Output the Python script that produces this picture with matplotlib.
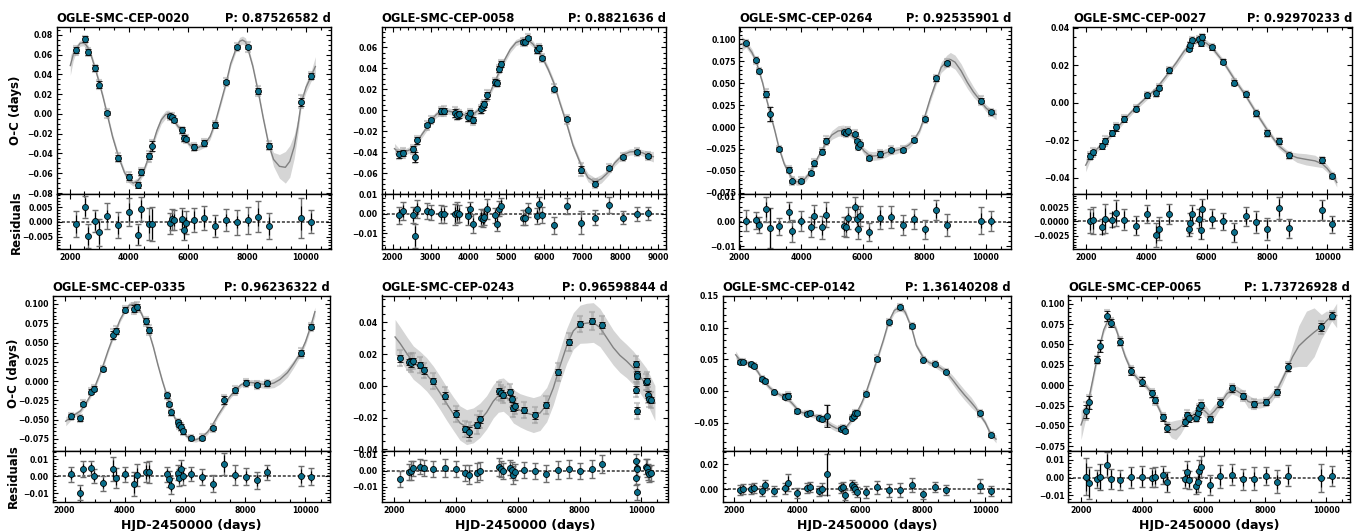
import matplotlib
matplotlib.use('Agg')
import numpy as np
import matplotlib.pyplot as plt
from matplotlib.ticker import MultipleLocator, AutoMinorLocator

plt.rcParams['font.family'] = 'DejaVu Sans'
plt.rcParams['font.weight'] = 'bold'
plt.rcParams['axes.labelweight'] = 'bold'
plt.rcParams['axes.titleweight'] = 'bold'

# ---------------- OGLE-SMC-CEP-0020 ----------------
t_0020 = [2205, 2530, 2616, 2865, 2984, 3276, 3650, 4011, 4313, 4421, 4692, 4800, 5405, 5459,
          5524, 5805, 5859, 5924, 6194, 6551, 6919, 7297, 7654, 8021, 8389, 8735, 9837, 10172]
oc_0020 = [0.0644, 0.0756, 0.0624, 0.0461, 0.0298, 0.0007, -0.0441, -0.0637, -0.0719, -0.0586,
           -0.0427, -0.0322, -0.0025, -0.0030, -0.0058, -0.0166, -0.0244, -0.0254, -0.0332,
           -0.0298, -0.0108, 0.0322, 0.0678, 0.0678, 0.0231, -0.0322, 0.0125, 0.0383]
err_0020 = [0.003, 0.003, 0.003, 0.003, 0.004, 0.002, 0.003, 0.003, 0.003, 0.003, 0.003, 0.005,
            0.002, 0.002, 0.002, 0.003, 0.003, 0.002, 0.003, 0.003, 0.003, 0.002, 0.002, 0.002,
            0.003, 0.003, 0.004, 0.003]
res_0020 = [-0.0008, 0.0049, -0.0048, 0.0003, -0.0036, 0.0019, -0.0011, 0.0032, -0.0044, 0.0044,
            -0.0008, -0.0008, -0.0005, 0.0008, 0.0006, 0.0011, -0.0028, -0.0003, 0.0006, 0.0013,
            -0.0014, 0.0006, -0.0001, 0.0005, 0.0017, -0.0014, 0.0013, 0.0001]
rerr_0020 = [0.0045, 0.0037, 0.0041, 0.0038, 0.0045, 0.0043, 0.0043, 0.0047, 0.0035, 0.0040,
             0.0055, 0.0058, 0.0035, 0.0035, 0.0035, 0.0035, 0.0035, 0.0038, 0.0042, 0.0040,
             0.0036, 0.0038, 0.0042, 0.0046, 0.0052, 0.0045, 0.0068, 0.0040]
cx_0020 = [2020, 2120, 2205, 2350, 2450, 2530, 2616, 2750, 2865, 2984, 3130, 3276, 3450, 3650,
           3850, 4011, 4150, 4313, 4421, 4550, 4692, 4800, 4950, 5100, 5250, 5350, 5459, 5524,
           5650, 5805, 5924, 6050, 6194, 6350, 6551, 6750, 6919, 7100, 7297, 7450, 7654, 7750,
           7850, 7950, 8021, 8200, 8389, 8550, 8735, 8900, 9100, 9300, 9450, 9600, 9720, 9837,
           10000, 10172, 10315]
cy_0020 = [0.049, 0.060, 0.065, 0.0715, 0.0720, 0.0707, 0.0672, 0.0570, 0.0458, 0.0334, 0.0170,
           -0.0012, -0.0230, -0.0430, -0.0590, -0.0669, -0.0700, -0.0675, -0.0630, -0.0540,
           -0.0419, -0.0314, -0.0170, -0.0060, -0.0005, 0.0000, -0.0038, -0.0064, -0.0120,
           -0.0177, -0.0251, -0.0310, -0.0338, -0.0340, -0.0311, -0.0230, -0.0094, 0.0100,
           0.0316, 0.0510, 0.0679, 0.0735, 0.0748, 0.0730, 0.0673, 0.0480, 0.0214, -0.0040,
           -0.0308, -0.0460, -0.0530, -0.0540, -0.0480, -0.0330, -0.0130, 0.0112, 0.0270,
           0.0382, 0.0480]
w_0020 = [0.010, 0.006, 0.004, 0.003, 0.003, 0.003, 0.003, 0.003, 0.003, 0.003, 0.003, 0.003,
          0.003, 0.003, 0.003, 0.003, 0.003, 0.003, 0.003, 0.003, 0.003, 0.003, 0.004, 0.004,
          0.004, 0.004, 0.003, 0.003, 0.003, 0.003, 0.003, 0.003, 0.003, 0.003, 0.003, 0.003,
          0.003, 0.003, 0.003, 0.003, 0.003, 0.004, 0.004, 0.004, 0.003, 0.003, 0.003, 0.003,
          0.003, 0.007, 0.012, 0.016, 0.016, 0.012, 0.008, 0.004, 0.005, 0.005, 0.010]

# ---------------- OGLE-SMC-CEP-0058 ----------------
t_0058 = [2179, 2267, 2530, 2600, 2644, 2916, 3004, 3268, 3355, 3645, 3689, 3759, 3979, 4040,
          4110, 4330, 4374, 4418, 4488, 4699, 4751, 4813, 4865, 5427, 5498, 5577, 5796, 5866,
          5945, 6244, 6586, 6964, 7333, 7693, 8061, 8448, 8737]
oc_0058 = [-0.0418, -0.0405, -0.0370, -0.0443, -0.0285, -0.0142, -0.0089, -0.0009, -0.0006,
           -0.0022, -0.0041, -0.0038, -0.0063, -0.0025, -0.0089, 0.0009, 0.0038, 0.0063, 0.0142,
           0.0269, 0.0259, 0.0396, 0.0443, 0.0649, 0.0649, 0.0687, 0.0576, 0.0595, 0.0497,
           0.0206, -0.0085, -0.0563, -0.0696, -0.0547, -0.0443, -0.0396, -0.0434]
err_0058 = [0.003, 0.003, 0.003, 0.005, 0.003, 0.002, 0.002, 0.003, 0.003, 0.004, 0.004, 0.003,
            0.004, 0.003, 0.003, 0.003, 0.003, 0.003, 0.003, 0.003, 0.003, 0.003, 0.003, 0.002,
            0.002, 0.002, 0.003, 0.003, 0.002, 0.002, 0.002, 0.003, 0.002, 0.002, 0.002, 0.002,
            0.002]
res_0058 = [-0.0007, 0.0014, -0.0007, -0.0114, 0.0024, 0.0014, 0.0008, 0.0000, -0.0002, -0.0002,
            0.0007, 0.0002, -0.0010, 0.0024, -0.0049, -0.0019, -0.0024, -0.0015, 0.0025, -0.0008,
            -0.0049, 0.0027, 0.0041, -0.0019, -0.0019, 0.0019, -0.0012, 0.0049, -0.0007, -0.0059,
            0.0041, -0.0044, -0.0019, 0.0046, -0.0019, -0.0002, 0.0003]
rerr_0058 = [0.0045, 0.0045, 0.0040, 0.0060, 0.0045, 0.0040, 0.0040, 0.0045, 0.0045, 0.0055,
             0.0055, 0.0045, 0.0045, 0.0035, 0.0050, 0.0045, 0.0045, 0.0040, 0.0050, 0.0040,
             0.0040, 0.0040, 0.0040, 0.0040, 0.0040, 0.0035, 0.0040, 0.0040, 0.0040, 0.0042,
             0.0040, 0.0060, 0.0040, 0.0040, 0.0035, 0.0035, 0.0035]
cx_0058 = [2050, 2179, 2350, 2530, 2644, 2750, 2916, 3004, 3150, 3268, 3450, 3645, 3800, 3979,
           4110, 4250, 4374, 4488, 4600, 4699, 4813, 4950, 5100, 5250, 5427, 5577, 5700, 5866,
           5945, 6100, 6244, 6400, 6586, 6750, 6964, 7150, 7333, 7500, 7693, 7850, 8061, 8250,
           8448, 8600, 8737, 8870]
cy_0058 = [-0.0364, -0.0405, -0.0390, -0.0363, -0.0309, -0.0240, -0.0156, -0.0097, -0.0040,
           -0.0009, -0.0005, -0.0020, -0.0035, -0.0050, -0.0040, 0.0000, 0.0062, 0.0117, 0.0195,
           0.0277, 0.0369, 0.0480, 0.0580, 0.0645, 0.0670, 0.0668, 0.0630, 0.0546, 0.0504,
           0.0390, 0.0265, 0.0080, -0.0126, -0.0330, -0.0519, -0.0640, -0.0680, -0.0650,
           -0.0585, -0.0500, -0.0424, -0.0395, -0.0390, -0.0405, -0.0430, -0.0440]
w_0058 = [0.005, 0.004, 0.003, 0.003, 0.003, 0.003, 0.003, 0.003, 0.003, 0.003, 0.003, 0.003,
          0.003, 0.003, 0.003, 0.003, 0.003, 0.003, 0.003, 0.003, 0.003, 0.003, 0.003, 0.003,
          0.003, 0.003, 0.003, 0.003, 0.003, 0.003, 0.003, 0.003, 0.003, 0.003, 0.003, 0.004,
          0.004, 0.004, 0.003, 0.003, 0.003, 0.003, 0.003, 0.003, 0.004, 0.005]

# ---------------- OGLE-SMC-CEP-0264 ----------------
t_0264 = [2205, 2530, 2616, 2865, 2984, 3276, 3600, 3708, 4011, 4313, 4421, 4692, 4800, 5405,
          5459, 5524, 5751, 5805, 5859, 5924, 6194, 6551, 6919, 7297, 7654, 8021, 8389, 8735,
          9837, 10172]
oc_0264 = [0.0952, 0.0759, 0.0642, 0.0378, 0.0144, -0.0253, -0.0487, -0.0619, -0.0612, -0.0521,
           -0.0412, -0.0279, -0.0155, -0.0060, -0.0072, -0.0049, -0.0079, -0.0155, -0.0223,
           -0.0193, -0.0351, -0.0306, -0.0257, -0.0261, -0.0147, 0.0091, 0.0555, 0.0729,
           0.0302, 0.0170]
err_0264 = [0.002, 0.002, 0.002, 0.003, 0.008, 0.002, 0.003, 0.002, 0.002, 0.002, 0.003, 0.003,
            0.003, 0.002, 0.002, 0.002, 0.002, 0.002, 0.002, 0.002, 0.002, 0.003, 0.002, 0.002,
            0.002, 0.002, 0.003, 0.002, 0.003, 0.002]
res_0264 = [0.0004, 0.0005, -0.0015, 0.0050, -0.0026, -0.0020, 0.0039, -0.0039, 0.0003, -0.0022,
            0.0022, -0.0024, 0.0028, -0.0020, -0.0022, 0.0014, 0.0058, 0.0009, -0.0031, 0.0023,
            -0.0042, 0.0016, 0.0018, -0.0014, 0.0009, -0.0032, 0.0045, -0.0015, 0.0003, 0.0003]
rerr_0264 = [0.0043, 0.0035, 0.0033, 0.0050, 0.0082, 0.0035, 0.0040, 0.0045, 0.0040, 0.0040,
             0.0045, 0.0045, 0.0050, 0.0040, 0.0040, 0.0045, 0.0040, 0.0040, 0.0040, 0.0040,
             0.0038, 0.0045, 0.0045, 0.0040, 0.0040, 0.0040, 0.0040, 0.0045, 0.0055, 0.0040]
cx_0264 = [2054, 2205, 2400, 2530, 2616, 2750, 2865, 3000, 3150, 3276, 3450, 3600, 3708, 3850,
           4011, 4150, 4313, 4421, 4550, 4692, 4800, 5000, 5200, 5380, 5524, 5700, 5805, 5924,
           6050, 6194, 6350, 6551, 6750, 6919, 7100, 7297, 7500, 7654, 7850, 8021, 8200, 8389,
           8550, 8735, 8850, 9000, 9200, 9400, 9600, 9837, 10000, 10172, 10335]
cy_0264 = [0.0950, 0.0948, 0.0850, 0.0755, 0.0655, 0.0500, 0.0330, 0.0150, -0.0050, -0.0233,
           -0.0420, -0.0526, -0.0585, -0.0625, -0.0620, -0.0580, -0.0500, -0.0434, -0.0340,
           -0.0255, -0.0183, -0.0090, -0.0045, -0.0036, -0.0060, -0.0115, -0.0164, -0.0216,
           -0.0275, -0.0315, -0.0330, -0.0322, -0.0295, -0.0275, -0.0265, -0.0247, -0.0205,
           -0.0156, -0.0040, 0.0123, 0.0330, 0.0520, 0.0680, 0.0750, 0.0770, 0.0740, 0.0640,
           0.0510, 0.0400, 0.0295, 0.0220, 0.0167, 0.0145]
w_0264 = [0.009, 0.004, 0.004, 0.003, 0.003, 0.003, 0.003, 0.003, 0.003, 0.003, 0.003, 0.003,
          0.003, 0.004, 0.004, 0.004, 0.003, 0.003, 0.003, 0.003, 0.003, 0.005, 0.006, 0.006,
          0.004, 0.003, 0.003, 0.003, 0.004, 0.004, 0.005, 0.005, 0.005, 0.004, 0.004, 0.003,
          0.004, 0.003, 0.003, 0.003, 0.004, 0.004, 0.006, 0.007, 0.008, 0.008, 0.008, 0.007,
          0.006, 0.004, 0.004, 0.004, 0.006]

# ---------------- OGLE-SMC-CEP-0027 ----------------
t_0027 = [2132, 2220, 2530, 2616, 2865, 2984, 3276, 3650, 4011, 4313, 4421, 4740, 5405, 5459,
          5524, 5751, 5805, 5859, 6194, 6551, 6919, 7297, 7654, 8021, 8389, 8735, 9837, 10172]
oc_0027 = [-0.0283, -0.0265, -0.0231, -0.0204, -0.0162, -0.0130, -0.0085, -0.0031, 0.0040,
           0.0050, 0.0081, 0.0173, 0.0288, 0.0310, 0.0333, 0.0339, 0.0319, 0.0350, 0.0297,
           0.0220, 0.0108, 0.0045, -0.0056, -0.0162, -0.0205, -0.0281, -0.0306, -0.0391]
err_0027 = [0.0015, 0.0015, 0.0015, 0.0018, 0.0015, 0.0018, 0.0015, 0.0015, 0.0013, 0.0015,
            0.0015, 0.0015, 0.0013, 0.0015, 0.0013, 0.0013, 0.0015, 0.0015, 0.0013, 0.0013,
            0.0015, 0.0013, 0.0015, 0.0015, 0.0015, 0.0013, 0.0015, 0.0012]
res_0027 = [0.0001, 0.0002, -0.0009, 0.0005, 0.0003, 0.0015, 0.0003, -0.0007, 0.0013, -0.0023,
            -0.0013, 0.0013, -0.0013, -0.0003, 0.0013, 0.0005, -0.0015, 0.0022, 0.0005, 0.0000,
            -0.0019, 0.0009, -0.0001, -0.0013, 0.0024, -0.0012, 0.0020, -0.0005]
rerr_0027 = [0.0021, 0.0023, 0.0013, 0.0025, 0.0012, 0.0023, 0.0018, 0.0017, 0.0016, 0.0021,
             0.0020, 0.0018, 0.0013, 0.0017, 0.0016, 0.0017, 0.0016, 0.0017, 0.0017, 0.0014,
             0.0017, 0.0016, 0.0019, 0.0019, 0.0019, 0.0017, 0.0018, 0.0015]
cx_0027 = [1990, 2132, 2220, 2530, 2616, 2865, 2984, 3276, 3650, 4011, 4313, 4421, 4740, 5000,
           5250, 5405, 5524, 5700, 5859, 6000, 6194, 6551, 6919, 7297, 7654, 8021, 8389, 8735,
           9000, 9300, 9600, 9837, 10000, 10172, 10320]
cy_0027 = [-0.0333, -0.0290, -0.0268, -0.0222, -0.0209, -0.0165, -0.0145, -0.0088, -0.0024,
           0.0030, 0.0073, 0.0094, 0.0160, 0.0215, 0.0275, 0.0301, 0.0320, 0.0336, 0.0330,
           0.0318, 0.0292, 0.0220, 0.0127, 0.0039, -0.0055, -0.0147, -0.0229, -0.0275, -0.0293,
           -0.0302, -0.0310, -0.0326, -0.0350, -0.0386, -0.0425]
w_0027 = [0.0035, 0.0020, 0.0015, 0.0015, 0.0015, 0.0015, 0.0015, 0.0015, 0.0015, 0.0015,
          0.0015, 0.0015, 0.0015, 0.0018, 0.0018, 0.0015, 0.0015, 0.0018, 0.0018, 0.0018,
          0.0015, 0.0015, 0.0015, 0.0015, 0.0015, 0.0015, 0.0015, 0.0015, 0.0025, 0.0030,
          0.0030, 0.0020, 0.0020, 0.0018, 0.0025]

# ---------------- OGLE-SMC-CEP-0335 ----------------
t_0335 = [2205, 2530, 2616, 2865, 2984, 3276, 3600, 3708, 4011, 4313, 4421, 4692, 4800, 5405,
          5459, 5524, 5751, 5805, 5859, 5924, 6194, 6551, 6919, 7297, 7654, 8021, 8389, 8735,
          9837, 10172]
oc_0335 = [-0.0457, -0.0483, -0.0296, -0.0135, -0.0096, 0.0157, 0.0601, 0.0653, 0.0927, 0.0941,
           0.0962, 0.0775, 0.0662, -0.0183, -0.0296, -0.0405, -0.0531, -0.0566, -0.0597,
           -0.0653, -0.0736, -0.0736, -0.0610, -0.0248, -0.0118, -0.0022, -0.0052, -0.0030,
           0.0366, 0.0706]
err_0335 = [0.003, 0.003, 0.003, 0.003, 0.003, 0.003, 0.005, 0.004, 0.003, 0.005, 0.004, 0.004,
            0.004, 0.003, 0.003, 0.003, 0.003, 0.003, 0.004, 0.003, 0.003, 0.003, 0.003, 0.005,
            0.003, 0.003, 0.003, 0.003, 0.004, 0.003]
res_0335 = [0.0012, -0.0096, 0.0043, 0.0049, 0.0000, -0.0041, 0.0043, -0.0010, 0.0012, -0.0047,
            0.0006, 0.0024, 0.0027, 0.0012, -0.0016, -0.0057, 0.0020, -0.0008, 0.0043, 0.0000,
            0.0014, -0.0004, -0.0045, 0.0073, 0.0006, -0.0002, -0.0025, 0.0022, 0.0000, -0.0002]
rerr_0335 = [0.0045, 0.0045, 0.0045, 0.0040, 0.0040, 0.0045, 0.0070, 0.0060, 0.0045, 0.0070,
             0.0065, 0.0060, 0.0065, 0.0045, 0.0045, 0.0045, 0.0045, 0.0050, 0.0050, 0.0050,
             0.0040, 0.0045, 0.0050, 0.0065, 0.0060, 0.0050, 0.0050, 0.0045, 0.0060, 0.0050]
cx_0335 = [2040, 2205, 2400, 2530, 2616, 2750, 2865, 2984, 3130, 3276, 3450, 3600, 3708, 3850,
           4011, 4150, 4313, 4421, 4550, 4692, 4800, 4950, 5100, 5250, 5405, 5524, 5650, 5805,
           5924, 6050, 6194, 6350, 6551, 6750, 6919, 7100, 7297, 7450, 7654, 7850, 8021, 8200,
           8389, 8550, 8735, 8950, 9150, 9400, 9600, 9837, 10000, 10172, 10314]
cy_0335 = [-0.0520, -0.0469, -0.0420, -0.0387, -0.0339, -0.0260, -0.0184, -0.0096, 0.0050,
           0.0198, 0.0400, 0.0558, 0.0663, 0.0800, 0.0915, 0.0985, 0.0995, 0.0956, 0.0880,
           0.0751, 0.0635, 0.0440, 0.0210, 0.0000, -0.0195, -0.0348, -0.0470, -0.0570, -0.0645,
           -0.0715, -0.0750, -0.0762, -0.0732, -0.0660, -0.0565, -0.0440, -0.0321, -0.0220,
           -0.0124, -0.0050, -0.0020, -0.0018, -0.0027, -0.0040, -0.0045, -0.0025, 0.0020,
           0.0110, 0.0220, 0.0366, 0.0510, 0.0708, 0.0900]
w_0335 = [0.006, 0.004, 0.003, 0.003, 0.003, 0.003, 0.003, 0.003, 0.003, 0.003, 0.003, 0.003,
          0.003, 0.003, 0.003, 0.004, 0.004, 0.003, 0.003, 0.003, 0.003, 0.003, 0.003, 0.003,
          0.003, 0.003, 0.003, 0.003, 0.003, 0.003, 0.003, 0.003, 0.003, 0.003, 0.003, 0.003,
          0.003, 0.003, 0.003, 0.003, 0.003, 0.004, 0.004, 0.005, 0.005, 0.006, 0.006, 0.006,
          0.005, 0.004, 0.004, 0.004, 0.006]

# ---------------- OGLE-SMC-CEP-0243 ----------------
t_0243 = [2205, 2505, 2560, 2610, 2865, 2984, 3276, 3650, 4011, 4313, 4421, 4692, 4800, 5405,
          5459, 5524, 5751, 5805, 5859, 5924, 6194, 6551, 6919, 7297, 7654, 8021, 8389, 8735,
          9820, 9845, 9860, 9830, 9850, 10150, 10180, 10210, 10250, 10295]
oc_0243 = [0.0173, 0.0152, 0.0146, 0.0156, 0.0131, 0.0097, 0.0030, -0.0061, -0.0175, -0.0272,
           -0.0289, -0.0245, -0.0211, -0.0032, -0.0044, -0.0059, -0.0040, -0.0082, -0.0139,
           -0.0129, -0.0150, -0.0186, -0.0120, 0.0087, 0.0276, 0.0388, 0.0409, 0.0382, 0.0137,
           0.0072, 0.0061, -0.0023, -0.0156, 0.0027, 0.0030, -0.0055, -0.0082, -0.0091]
err_0243 = [0.002, 0.002, 0.003, 0.002, 0.002, 0.002, 0.002, 0.002, 0.002, 0.002, 0.003, 0.002,
            0.002, 0.002, 0.002, 0.002, 0.002, 0.002, 0.002, 0.002, 0.002, 0.002, 0.002, 0.002,
            0.002, 0.002, 0.002, 0.002, 0.002, 0.002, 0.002, 0.002, 0.002, 0.002, 0.002, 0.002,
            0.002, 0.002]
res_0243 = [-0.0051, -0.0008, 0.0000, 0.0015, 0.0027, 0.0019, 0.0013, 0.0019, 0.0013, -0.0011,
            -0.0025, -0.0011, -0.0002, 0.0023, 0.0013, 0.0000, 0.0021, 0.0006, -0.0025, -0.0008,
            0.0006, -0.0002, -0.0017, 0.0006, 0.0011, 0.0000, 0.0013, 0.0044, 0.0059, 0.0017,
            0.0013, -0.0042, -0.0131, 0.0027, 0.0017, -0.0008, -0.0021, -0.0015]
rerr_0243 = [0.0050, 0.0050, 0.0060, 0.0050, 0.0050, 0.0050, 0.0050, 0.0055, 0.0050, 0.0050,
             0.0060, 0.0060, 0.0055, 0.0055, 0.0050, 0.0050, 0.0050, 0.0050, 0.0055, 0.0050,
             0.0050, 0.0050, 0.0055, 0.0055, 0.0055, 0.0050, 0.0055, 0.0055, 0.0050, 0.0050,
             0.0050, 0.0050, 0.0050, 0.0050, 0.0055, 0.0050, 0.0050, 0.0050]
cx_0243 = [2045, 2205, 2420, 2635, 2850, 3065, 3280, 3495, 3710, 3925, 4140, 4355, 4570, 4785,
           5000, 5215, 5380, 5540, 5700, 5865, 6080, 6295, 6510, 6725, 6940, 7155, 7370, 7585,
           7800, 8015, 8230, 8445, 8660, 8875, 9090, 9305, 9520, 9735, 9950, 10165, 10435]
cy_0243 = [0.0308, 0.0268, 0.0205, 0.0146, 0.0112, 0.0072, 0.0019, -0.0044, -0.0112, -0.0175,
           -0.0234, -0.0260, -0.0249, -0.0217, -0.0167, -0.0097, -0.0061, -0.0055, -0.0082,
           -0.0129, -0.0154, -0.0171, -0.0184, -0.0171, -0.0118, -0.0013, 0.0125, 0.0251,
           0.0346, 0.0388, 0.0395, 0.0399, 0.0367, 0.0304, 0.0241, 0.0192, 0.0156, 0.0114,
           0.0061, 0.0002, -0.0108]
w_0243 = [0.0110, 0.0105, 0.0105, 0.0105, 0.0105, 0.0105, 0.0105, 0.0105, 0.0105, 0.0105,
          0.0108, 0.0110, 0.0110, 0.0108, 0.0105, 0.0105, 0.0105, 0.0105, 0.0105, 0.0105,
          0.0105, 0.0108, 0.0110, 0.0110, 0.0108, 0.0105, 0.0105, 0.0110, 0.0115, 0.0120,
          0.0125, 0.0125, 0.0120, 0.0115, 0.0110, 0.0108, 0.0105, 0.0105, 0.0105, 0.0108,
          0.0110]

# ---------------- OGLE-SMC-CEP-0142 ----------------
t_0142 = [2165, 2260, 2530, 2616, 2865, 2984, 3276, 3600, 3708, 4011, 4313, 4421, 4692, 4800,
          4950, 5405, 5459, 5524, 5751, 5805, 5859, 5924, 6194, 6551, 6919, 7297, 7654, 8021,
          8389, 8735, 9837, 10172]
oc_0142 = [0.0462, 0.0462, 0.0420, 0.0399, 0.0189, 0.0152, -0.0021, -0.0089, -0.0084, -0.0320,
           -0.0357, -0.0352, -0.0425, -0.0446, -0.0394, -0.0598, -0.0583, -0.0630, -0.0420,
           -0.0399, -0.0346, -0.0346, -0.0052, 0.0509, 0.1081, 0.1318, 0.1024, 0.0488, 0.0430,
           0.0299, -0.0352, -0.0693]
err_0142 = [0.003, 0.003, 0.003, 0.003, 0.003, 0.003, 0.002, 0.004, 0.005, 0.003, 0.002, 0.003,
            0.002, 0.003, 0.017, 0.003, 0.003, 0.003, 0.003, 0.003, 0.003, 0.003, 0.003, 0.003,
            0.003, 0.003, 0.003, 0.002, 0.002, 0.002, 0.003, 0.003]
res_0142 = [-0.0005, 0.0005, 0.0003, 0.0013, -0.0016, 0.0032, -0.0013, 0.0008, 0.0053, -0.0029,
            0.0008, 0.0019, -0.0011, 0.0003, 0.0120, 0.0008, 0.0019, -0.0048, 0.0032, 0.0021,
            0.0003, -0.0024, -0.0021, 0.0016, -0.0008, -0.0005, 0.0035, -0.0040, 0.0019,
            -0.0008, 0.0029, -0.0013]
rerr_0142 = [0.0040, 0.0040, 0.0040, 0.0040, 0.0040, 0.0040, 0.0040, 0.0045, 0.0070, 0.0040,
             0.0040, 0.0040, 0.0040, 0.0045, 0.0165, 0.0040, 0.0040, 0.0040, 0.0040, 0.0040,
             0.0040, 0.0040, 0.0045, 0.0050, 0.0050, 0.0055, 0.0055, 0.0040, 0.0040, 0.0040,
             0.0055, 0.0040]
cx_0142 = [2040, 2165, 2260, 2400, 2530, 2616, 2750, 2865, 2984, 3130, 3276, 3450, 3600, 3708,
           3850, 4011, 4150, 4313, 4421, 4550, 4692, 4800, 4950, 5100, 5250, 5405, 5500, 5600,
           5751, 5859, 5924, 6050, 6194, 6350, 6551, 6750, 6919, 7100, 7297, 7450, 7654, 7800,
           8021, 8200, 8389, 8550, 8735, 8950, 9150, 9350, 9550, 9700, 9837, 10000, 10172, 10344]
cy_0142 = [0.0570, 0.0490, 0.0465, 0.0445, 0.0417, 0.0386, 0.0300, 0.0205, 0.0130, 0.0050,
           -0.0010, -0.0060, -0.0097, -0.0130, -0.0200, -0.0291, -0.0340, -0.0362, -0.0371,
           -0.0390, -0.0414, -0.0449, -0.0500, -0.0550, -0.0590, -0.0606, -0.0600, -0.0550,
           -0.0452, -0.0360, -0.0322, -0.0200, -0.0031, 0.0200, 0.0493, 0.0800, 0.1089, 0.1270,
           0.1330, 0.1240, 0.0989, 0.0720, 0.0528, 0.0450, 0.0411, 0.0370, 0.0307, 0.0180,
           0.0050, -0.0070, -0.0180, -0.0270, -0.0381, -0.0500, -0.0680, -0.0760]
w_0142 = [0.006, 0.004, 0.004, 0.004, 0.004, 0.004, 0.004, 0.004, 0.004, 0.004, 0.004, 0.004,
          0.004, 0.004, 0.004, 0.004, 0.004, 0.004, 0.004, 0.004, 0.004, 0.004, 0.005, 0.005,
          0.005, 0.004, 0.004, 0.004, 0.004, 0.004, 0.004, 0.004, 0.004, 0.004, 0.004, 0.004,
          0.004, 0.005, 0.005, 0.005, 0.004, 0.004, 0.004, 0.004, 0.004, 0.005, 0.005, 0.007,
          0.008, 0.008, 0.008, 0.006, 0.004, 0.004, 0.004, 0.006]

# ---------------- OGLE-SMC-CEP-0065 ----------------
t_0065 = [2165, 2260, 2530, 2616, 2865, 2984, 3276, 3650, 4011, 4313, 4421, 4692, 4800, 5405,
          5459, 5524, 5751, 5805, 5859, 5924, 6194, 6551, 6919, 7297, 7654, 8021, 8389, 8735,
          9837, 10172]
oc_0065 = [-0.0318, -0.0208, 0.0314, 0.0481, 0.0848, 0.0767, 0.0534, 0.0179, 0.0045, -0.0102,
           -0.0184, -0.0396, -0.0526, -0.0457, -0.0367, -0.0408, -0.0400, -0.0347, -0.0286,
           -0.0245, -0.0416, -0.0220, -0.0041, -0.0131, -0.0232, -0.0204, -0.0082, 0.0220,
           0.0714, 0.0856]
err_0065 = [0.008, 0.008, 0.004, 0.007, 0.006, 0.005, 0.004, 0.005, 0.005, 0.004, 0.004, 0.004,
            0.005, 0.004, 0.004, 0.004, 0.004, 0.004, 0.004, 0.004, 0.004, 0.005, 0.004, 0.004,
            0.004, 0.004, 0.004, 0.005, 0.005, 0.004]
res_0065 = [0.0004, -0.0032, -0.0009, 0.0004, 0.0072, -0.0008, -0.0013, 0.0002, 0.0004, 0.0000,
            0.0004, 0.0013, -0.0026, -0.0008, 0.0034, -0.0013, -0.0045, -0.0023, 0.0038, 0.0062,
            -0.0042, 0.0006, 0.0017, -0.0009, -0.0006, 0.0009, -0.0023, 0.0011, -0.0004, 0.0008]
rerr_0065 = [0.0105, 0.0090, 0.0050, 0.0075, 0.0070, 0.0055, 0.0055, 0.0060, 0.0060, 0.0055,
             0.0055, 0.0050, 0.0055, 0.0050, 0.0060, 0.0050, 0.0050, 0.0060, 0.0060, 0.0060,
             0.0055, 0.0065, 0.0060, 0.0060, 0.0065, 0.0050, 0.0065, 0.0060, 0.0080, 0.0055]
cx_0065 = [2010, 2165, 2260, 2400, 2530, 2616, 2750, 2865, 2950, 3050, 3150, 3276, 3450, 3650,
           3850, 4011, 4150, 4313, 4421, 4550, 4692, 4800, 4950, 5100, 5250, 5405, 5524, 5700,
           5859, 5924, 6050, 6194, 6350, 6551, 6750, 6919, 7080, 7297, 7450, 7654, 7850, 8021,
           8200, 8389, 8550, 8735, 8900, 9100, 9350, 9600, 9837, 10000, 10172, 10335]
cy_0065 = [-0.0489, -0.0322, -0.0176, 0.0080, 0.0323, 0.0477, 0.0680, 0.0776, 0.0810, 0.0760,
           0.0690, 0.0547, 0.0350, 0.0177, 0.0080, 0.0041, -0.0020, -0.0102, -0.0188, -0.0290,
           -0.0409, -0.0500, -0.0545, -0.0550, -0.0510, -0.0449, -0.0395, -0.0360, -0.0324,
           -0.0290, -0.0320, -0.0374, -0.0320, -0.0226, -0.0110, -0.0058, -0.0070, -0.0122,
           -0.0200, -0.0226, -0.0220, -0.0213, -0.0150, -0.0059, 0.0060, 0.0209, 0.0350, 0.0480,
           0.0570, 0.0650, 0.0718, 0.0790, 0.0848, 0.0856]
w_0065 = [0.018, 0.009, 0.007, 0.006, 0.005, 0.005, 0.004, 0.004, 0.004, 0.004, 0.004, 0.004,
          0.004, 0.004, 0.004, 0.004, 0.004, 0.004, 0.004, 0.004, 0.004, 0.006, 0.010, 0.012,
          0.009, 0.005, 0.005, 0.006, 0.005, 0.005, 0.008, 0.006, 0.008, 0.005, 0.006, 0.005,
          0.006, 0.006, 0.008, 0.006, 0.006, 0.005, 0.006, 0.005, 0.006, 0.005, 0.013, 0.025,
          0.034, 0.030, 0.015, 0.012, 0.006, 0.015]

stars = [
    ('OGLE-SMC-CEP-0020', 'P: 0.87526582 d', t_0020, oc_0020, err_0020, res_0020, rerr_0020, cx_0020, cy_0020, w_0020),
    ('OGLE-SMC-CEP-0058', 'P: 0.8821636 d', t_0058, oc_0058, err_0058, res_0058, rerr_0058, cx_0058, cy_0058, w_0058),
    ('OGLE-SMC-CEP-0264', 'P: 0.92535901 d', t_0264, oc_0264, err_0264, res_0264, rerr_0264, cx_0264, cy_0264, w_0264),
    ('OGLE-SMC-CEP-0027', 'P: 0.92970233 d', t_0027, oc_0027, err_0027, res_0027, rerr_0027, cx_0027, cy_0027, w_0027),
    ('OGLE-SMC-CEP-0335', 'P: 0.96236322 d', t_0335, oc_0335, err_0335, res_0335, rerr_0335, cx_0335, cy_0335, w_0335),
    ('OGLE-SMC-CEP-0243', 'P: 0.96598844 d', t_0243, oc_0243, err_0243, res_0243, rerr_0243, cx_0243, cy_0243, w_0243),
    ('OGLE-SMC-CEP-0142', 'P: 1.36140208 d', t_0142, oc_0142, err_0142, res_0142, rerr_0142, cx_0142, cy_0142, w_0142),
    ('OGLE-SMC-CEP-0065', 'P: 1.73726928 d', t_0065, oc_0065, err_0065, res_0065, rerr_0065, cx_0065, cy_0065, w_0065),
]

# axis ranges and tick spacing for each panel
xlims = [(1560, 10845), (1713, 9203), (1990, 10821), (1579, 10836),
         (1607, 10814), (1613, 10867), (1627, 10821), (1596, 10769)]
xsteps = [2000, 1000, 2000, 2000, 2000, 2000, 2000, 2000]
ylims = [(-0.081, 0.088), (-0.0795, 0.0793), (-0.0763, 0.114), (-0.0487, 0.0405),
         (-0.090, 0.111), (-0.0407, 0.0569), (-0.094, 0.1505), (-0.0803, 0.1102)]
ysteps = [0.02, 0.02, 0.025, 0.02, 0.025, 0.02, 0.05, 0.025]
rlims = [(-0.0093, 0.0094), (-0.0181, 0.0102), (-0.0112, 0.0111), (-0.00483, 0.00477),
         (-0.0153, 0.0151), (-0.0198, 0.0128), (-0.0104, 0.0309), (-0.0140, 0.0153)]
rsteps = [0.005, 0.01, 0.01, 0.0025, 0.01, 0.01, 0.02, 0.01]

# panel frames in pixels
W, H = 1363, 531
lefts = [56.7, 381.7, 739.3, 1073.3, 52.7, 381.7, 722.7, 1068.3]
rights = [331.0, 666.0, 1011.0, 1352.3, 330.0, 668.3, 1011.0, 1350.0]
rows = [(27.0, 194.0, 249.3), (295.5, 450.5, 502.3)]
ylabel_px = [22.5, 20.0]

POINT = '#0a6e8a'


def style_axis(ax, xstep, ystep):
    ax.xaxis.set_major_locator(MultipleLocator(xstep))
    ax.xaxis.set_minor_locator(AutoMinorLocator())
    ax.yaxis.set_major_locator(MultipleLocator(ystep))
    ax.yaxis.set_minor_locator(AutoMinorLocator())
    ax.tick_params(which='both', direction='in', top=True, right=True,
                   labelsize=5.6, width=0.8, pad=2.5)
    ax.tick_params(which='major', length=3.5)
    ax.tick_params(which='minor', length=2)
    for sp in ax.spines.values():
        sp.set_linewidth(1.0)


fig = plt.figure(figsize=(W / 100, H / 100), dpi=100)

for i, (name, period, t, oc, err, res, rerr, cx, cy, w) in enumerate(stars):
    row, col = divmod(i, 4)
    top, split, bottom = rows[row]
    l, r = lefts[i], rights[i]
    ax = fig.add_axes([l / W, 1 - split / H, (r - l) / W, (split - top) / H])
    axr = fig.add_axes([l / W, 1 - bottom / H, (r - l) / W, (bottom - split) / H])

    cx = np.array(cx)
    cy = np.array(cy)
    w = np.array(w)

    # GP mean and its uncertainty band
    ax.fill_between(cx, cy - w, cy + w, color='#d5d5d5', lw=0, zorder=1)
    ax.plot(cx, cy, color='#808080', lw=1.0, zorder=2)
    ax.errorbar(t, oc, yerr=rerr, fmt='none', ecolor='#9a9a9a', elinewidth=2.0,
                capsize=2.5, capthick=1.5, alpha=0.5, zorder=3)
    ax.errorbar(t, oc, yerr=err, fmt='o', ms=4.3, mfc=POINT, mec='black', mew=0.6,
                ecolor='black', elinewidth=0.9, capsize=2, capthick=0.9, zorder=4)

    # residuals
    axr.axhline(0, color='#333333', ls=(0, (2, 1.2)), lw=1.1, zorder=1)
    axr.errorbar(t, res, yerr=rerr, fmt='none', ecolor='#6e6e6e', elinewidth=1.0,
                 capsize=2, capthick=1.0, zorder=2)
    axr.errorbar(t, res, yerr=err, fmt='o', ms=4.3, mfc=POINT, mec='black', mew=0.6,
                 ecolor='black', elinewidth=0.8, capsize=0, zorder=3)

    for a in (ax, axr):
        a.set_xlim(*xlims[i])
    ax.set_ylim(*ylims[i])
    axr.set_ylim(*rlims[i])
    style_axis(ax, xsteps[i], ysteps[i])
    style_axis(axr, xsteps[i], rsteps[i])
    ax.tick_params(labelbottom=False)

    ax.set_title(name, loc='left', fontsize=8.3, pad=3.5)
    ax.set_title(period, loc='right', fontsize=8.3, pad=3.5)

    if col == 0:
        lx = (ylabel_px[row] - l) / (r - l)
        ax.set_ylabel('O-C (days)', fontsize=8.5)
        axr.set_ylabel('Residuals', fontsize=8.5)
        ax.yaxis.set_label_coords(lx, 0.5)
        axr.yaxis.set_label_coords(lx, 0.5)
    if row == 1:
        axr.set_xlabel('HJD-2450000 (days)', fontsize=9, labelpad=3)

fig.savefig('out.png', dpi=100)
